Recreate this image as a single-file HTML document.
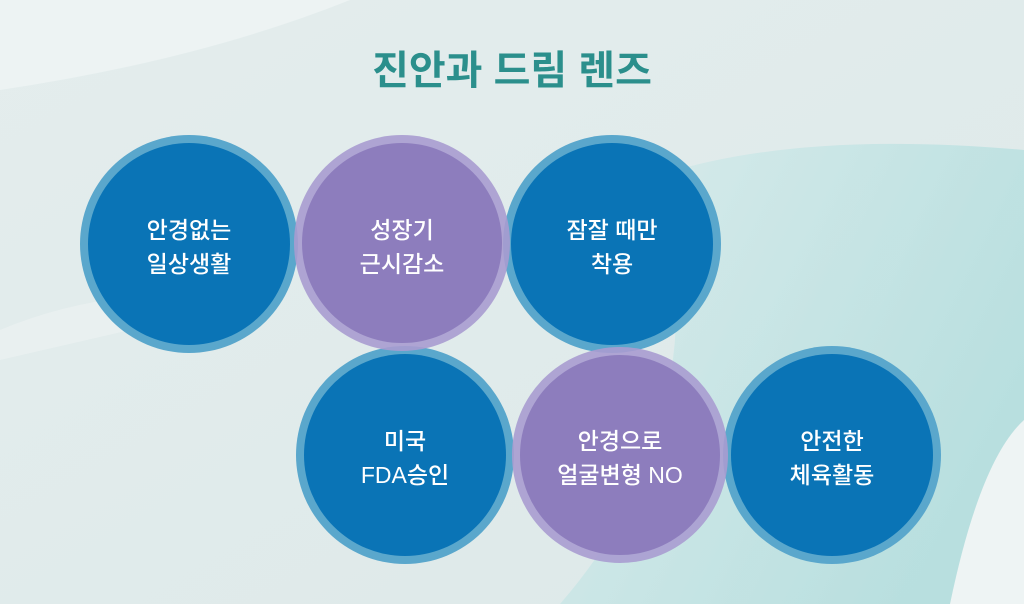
<!DOCTYPE html>
<html><head><meta charset="utf-8"><style>
html,body{margin:0;padding:0}
body{width:1024px;height:604px;overflow:hidden;font-family:"Liberation Sans","Noto Sans CJK KR",sans-serif;}
</style></head><body>
<svg width="1024" height="604" viewBox="0 0 1024 604" xmlns="http://www.w3.org/2000/svg">
<defs>
<linearGradient id="bg" x1="0" y1="0" x2="1" y2="1">
<stop offset="0" stop-color="#e4eded"/><stop offset="1" stop-color="#dde9e9"/>
</linearGradient>
<linearGradient id="tl" x1="0" y1="0" x2="1" y2="0.5">
<stop offset="0" stop-color="#d6ecec"/><stop offset="1" stop-color="#9fd8d8"/>
</linearGradient>
</defs>
<rect width="1024" height="604" fill="url(#bg)"/>
<path d="M0 90 Q200 60 350 0 L0 0Z" fill="#edf3f3"/>
<path d="M0 330 Q120 280 260 300 L0 360Z" fill="#e9f0f0"/>
<path d="M660 175 Q800 130 1024 150 L1024 604 L560 604 Q720 420 660 175Z" fill="url(#tl)" opacity="0.6"/>
<path d="M950 604 Q980 460 1024 420 L1024 604Z" fill="#eef4f4"/>
<text x="512" y="84" text-anchor="middle" font-size="40" font-weight="bold" fill="#2b8f8c" font-family="Liberation Sans,Noto Sans CJK KR,sans-serif">진안과 드림 렌즈</text>
<g font-size="23" fill="#fff" text-anchor="middle" font-weight="500" font-family="Liberation Sans,Noto Sans CJK KR,sans-serif">
<g>
<circle cx="189" cy="244" r="109" fill="#5aa7cc"/><circle cx="189" cy="244" r="101" fill="#0a74b6"/>
<circle cx="612" cy="244" r="109" fill="#5aa7cc"/><circle cx="612" cy="244" r="101" fill="#0a74b6"/>
<circle cx="405" cy="455" r="109" fill="#5aa7cc"/><circle cx="405" cy="455" r="101" fill="#0a74b6"/>
<circle cx="832" cy="455" r="109" fill="#5aa7cc"/><circle cx="832" cy="455" r="101" fill="#0a74b6"/>
<circle cx="402" cy="243" r="108" fill="#a99cd0" opacity="0.9"/><circle cx="402" cy="243" r="100" fill="#8d7dbd"/>
<circle cx="620" cy="455" r="108" fill="#a99cd0" opacity="0.9"/><circle cx="620" cy="455" r="100" fill="#8d7dbd"/>
</g>
<text x="189" y="238">안경없는</text><text x="189" y="272">일상생활</text>
<text x="402" y="238">성장기</text><text x="402" y="272">근시감소</text>
<text x="612" y="238">잠잘 때만</text><text x="612" y="272">착용</text>
<text x="405" y="449">미국</text><text x="405" y="483">FDA승인</text>
<text x="620" y="449">안경으로</text><text x="620" y="483">얼굴변형 NO</text>
<text x="832" y="449">안전한</text><text x="832" y="483">체육활동</text>
</g>
</svg>
</body></html>
